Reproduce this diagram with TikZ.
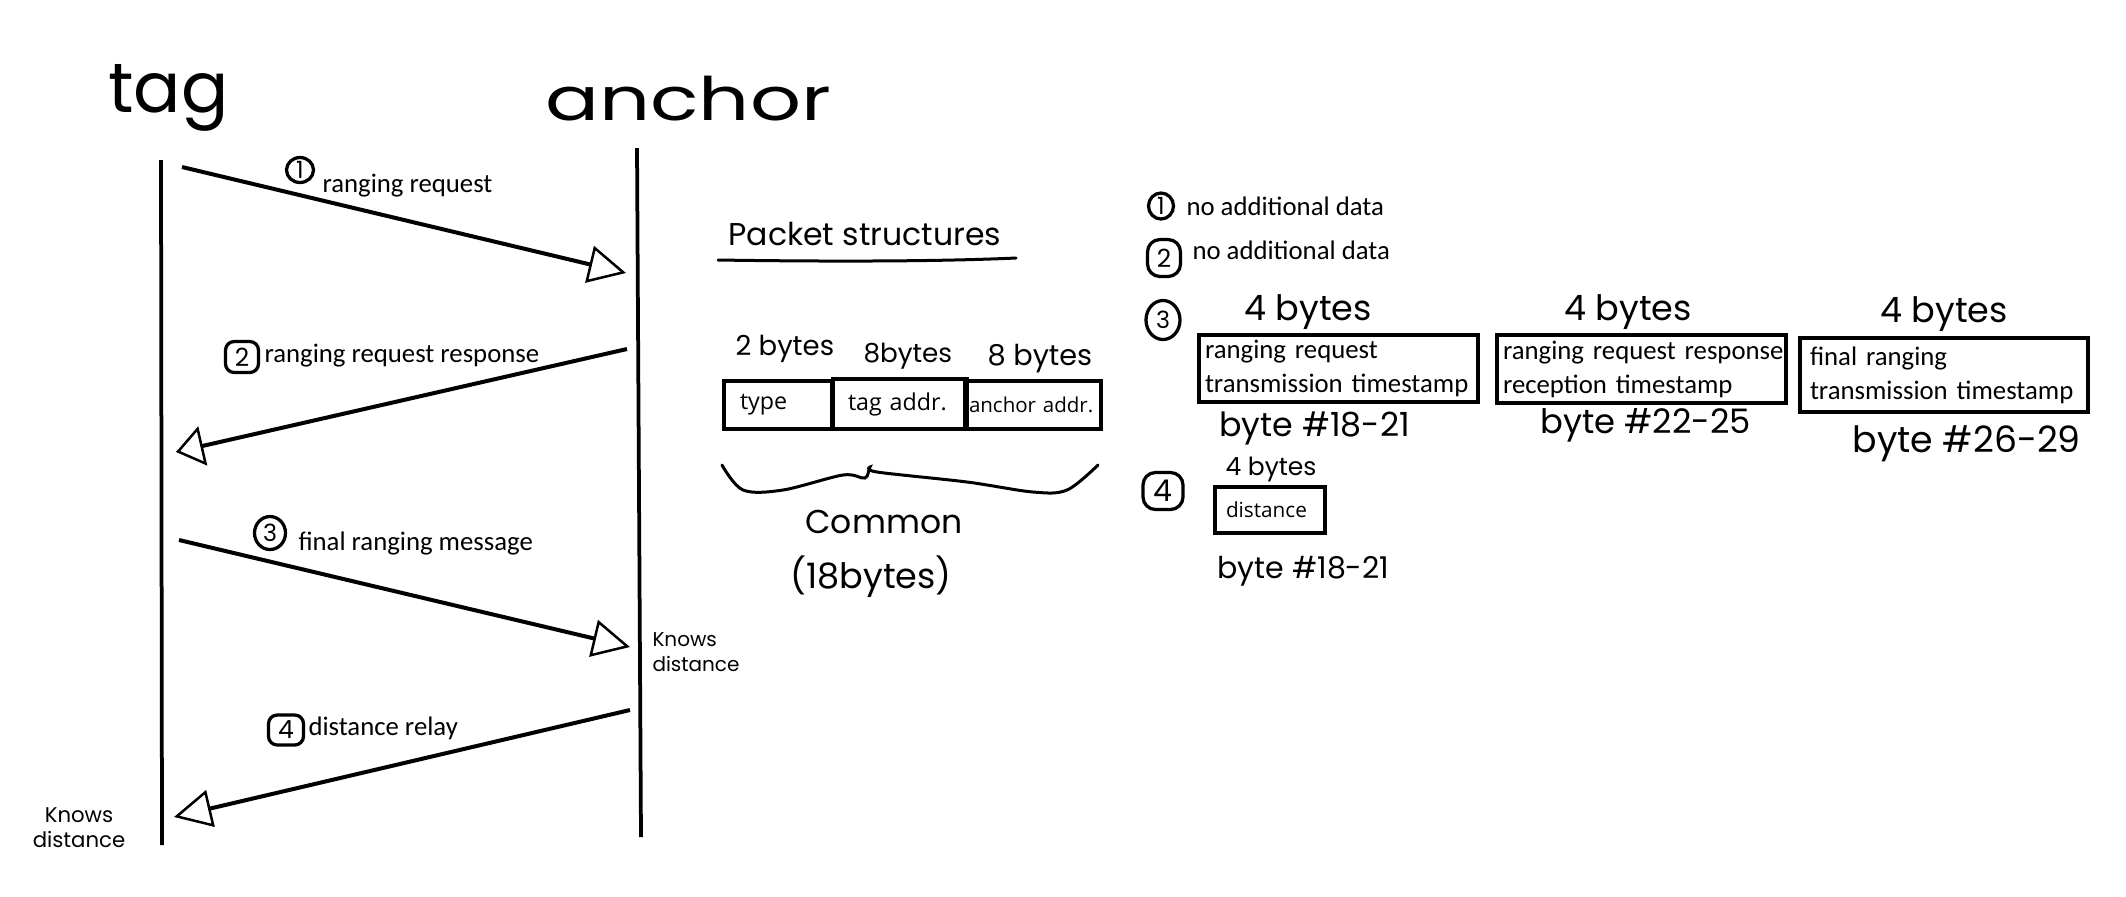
\documentclass[tikz,border=0pt]{standalone}
\usepackage{fontspec}
\usepackage{graphicx}
\setmainfont{Carlito}
\newfontfamily\handfont{Poppins}
\newfontfamily\segfont{Open Sans}
\usetikzlibrary{arrows.meta,shapes.geometric}
\newcommand\hws[2]{\handfont\fontsize{#1}{#2}\selectfont}
\newcommand\cals{\fontsize{10.7}{13.6}\selectfont}
\begin{document}
\begin{tikzpicture}[x=0.4pt,y=-0.4pt,
  life/.style={line width=1.5pt},
  msg/.style={line width=1.6pt,-{Triangle[open,length=15pt,width=15pt,line width=1pt]}},
  lbl/.style={font=\cals, anchor=base west, inner sep=0pt},
  hw/.style={anchor=base west, inner sep=0pt},
  numo/.style={draw, ellipse, line width=1.3pt, inner sep=0pt, font=\hws{9.5}{9.5}},
  numr/.style={draw, rounded corners=3.5pt, line width=1.3pt, inner sep=0pt, font=\hws{10}{10}},
  pbox/.style={draw, line width=1.6pt, anchor=north west, inner ysep=0pt, align=left},
  hline/.style={line width=1.2pt, line cap=round}
]
\fill[white] (0,0) rectangle (2126,896);
\useasboundingbox (0,0) rectangle (2126,896);

% titles
\node[hw, font=\hws{28}{28}] (tagt) at (108,112) {tag};
\node[hw, font=\hws{24}{24}] (anct) at (545,120) {\scalebox{1.33}[1]{anchor}};

% lifelines
\coordinate (tagtop) at (161,160); \coordinate (tagbot) at (162,845);
\coordinate (anctop) at (637,148); \coordinate (ancbot) at (641,837);
\draw[life] (tagtop) -- (tagbot);
\draw[life] (anctop) -- (ancbot);

% messages
\coordinate (m1s) at (182,167); \coordinate (m1e) at (626,273);
\coordinate (m2s) at (627,349); \coordinate (m2e) at (176,452);
\coordinate (m3s) at (179,540); \coordinate (m3e) at (630,647);
\coordinate (m4s) at (630,710); \coordinate (m4e) at (174,817);
\draw[msg] (m1s) -- (m1e);
\draw[msg,-{Triangle[open,length=11pt,width=16pt,line width=1pt]}] (m2s) -- (m2e);
\draw[msg] (m3s) -- (m3e);
\draw[msg] (m4s) -- (m4e);

\node[numo, minimum width=10.8pt, minimum height=10pt] (n1) at (300,170) {1};
\node[lbl] (l1) at (322,192) {ranging request};
\node[numr, minimum width=13.2pt, minimum height=12.4pt] (n2) at (242,357) {2};
\node[lbl] (l2) at (264,362) {ranging request response};
\node[numo, minimum width=12.4pt, minimum height=13.2pt] (n3) at (270,533) {3};
\node[lbl] (l3) at (298,550) {final ranging message};
\node[numr, minimum width=14pt, minimum height=12pt] (n4) at (286,730) {4};
\node[lbl] (l4) at (308,735) {distance relay};

\node[font=\hws{8}{10}, align=left, anchor=north west, inner sep=0pt] (kna) at (652,632) {Knows\\distance};
\node[font=\hws{8.5}{10}, align=center, inner sep=0pt] (knt) at (79,828) {Knows\\distance};

% packet structures
\node[hw, font=\hws{12.6}{12.6}] (pst) at (728,245) {Packet structures};
\draw[hline] (718,260) .. controls (850,262) and (950,261) .. (1016,258);
\node[hw, font=\hws{11}{11}] (b2) at (735,355) {2 bytes};
\node[hw, font=\hws{10.5}{10.5}] (b8a) at (863,362) {8bytes};
\node[hw, font=\hws{11.5}{11.5}] (b8b) at (987,365) {8 bytes};
\node[pbox, minimum width=43.2pt, minimum height=19.2pt, inner xsep=6.4pt, text width=30.4pt, font=\segfont\fontsize{9.3}{11}\selectfont] (ftype) at (722,379) {type};
\node[pbox, minimum width=53.6pt, minimum height=20pt, inner xsep=6pt, text width=41.6pt, font=\segfont\fontsize{9.3}{11}\selectfont] (ftag) at (831,377) {tag addr.};
\node[pbox, minimum width=54.4pt, minimum height=19.2pt, inner xsep=1.6pt, text width=51.2pt, font=\segfont\fontsize{8.2}{10}\selectfont] (fanc) at (963,379) {anchor addr.};
\draw[hline] plot[smooth,tension=0.55] coordinates {(722,465) (743,490) (783,490) (843,475) (865,478) (870,467) (877,472) (967,482) (1033,492) (1067,490) (1098,465)};
\node[hw, font=\hws{13.2}{13.2}] (comm) at (805,533) {Common};
\node[hw, font=\hws{14}{14}] (c18) at (790,588) {(18bytes)};

% right side
\node[numo, minimum width=10pt, minimum height=10.4pt] (r1) at (1161,206) {1};
\node[lbl] (t1) at (1186,215) {no additional data};
\node[numr, minimum width=13.2pt, minimum height=14.8pt, rounded corners=5pt] (r2) at (1164,258) {2};
\node[lbl] (t2) at (1192,259) {no additional data};
\node[numo, minimum width=13.6pt, minimum height=15.6pt] (r3) at (1163,320) {3};

\node[hw, font=\hws{14}{14}] (fb1) at (1244,320) {4 bytes};
\node[hw, font=\hws{14}{14}] (fb2) at (1564,320) {4 bytes};
\node[hw, font=\hws{14}{14}] (fb3) at (1880,322) {4 bytes};
\node[pbox, minimum width=111.6pt, minimum height=26.8pt, inner xsep=2.4pt, text width=106.8pt, font=\cals] (box1) at (1197,333) {\mbox{ranging request}\\\mbox{transmission timestamp}};
\node[pbox, minimum width=115.6pt, minimum height=27.2pt, inner xsep=2.4pt, text width=110.8pt, font=\cals] (box2) at (1495,333) {\mbox{ranging request response}\\\mbox{reception timestamp}};
\node[pbox, minimum width=115.2pt, minimum height=29.6pt, inner xsep=4pt, text width=107.2pt, font=\cals] (box3) at (1798,336) {\mbox{final ranging}\\\mbox{transmission timestamp}};
\node[hw, font=\hws{13.3}{13.3}] (by1) at (1219,436) {byte \#18-21};
\node[hw, font=\hws{13.5}{13.5}] (by2) at (1540,433) {byte \#22-25};
\node[hw, font=\hws{14.5}{14.5}] (by3) at (1852,452) {byte \#26-29};

\node[numr, minimum width=16pt, minimum height=14.8pt, rounded corners=5pt, font=\hws{12}{12}] (r4) at (1163,491) {4};
\node[hw, font=\hws{10}{10}] (fb4) at (1225,475) {4 bytes};
\node[pbox, minimum width=44pt, minimum height=18.4pt, inner xsep=4.4pt, text width=35.2pt, font=\segfont\fontsize{8.3}{10}\selectfont] (box4) at (1213,485) {distance};
\node[hw, font=\hws{12}{12}] (by4) at (1217,578) {byte \#18-21};
\end{tikzpicture}
\end{document}
